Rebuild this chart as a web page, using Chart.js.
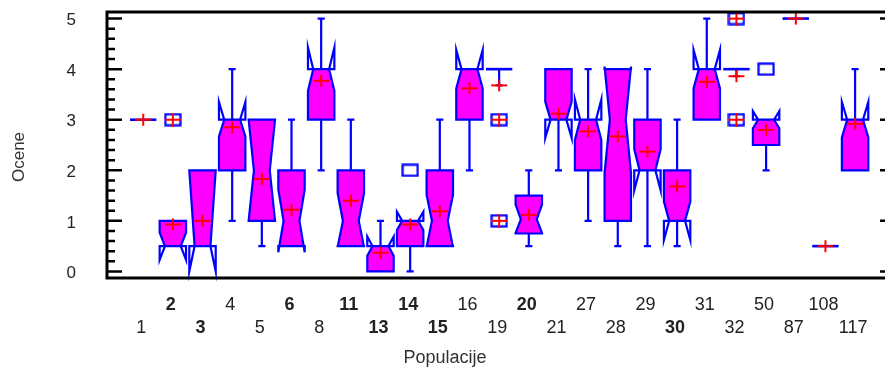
<!DOCTYPE html>
<html>
<head>
<meta charset="utf-8">
<script src="https://cdn.jsdelivr.net/npm/chart.js@4/dist/chart.umd.min.js"></script>
<style>
  html, body { margin: 0; padding: 0; background: #fff; }
  #wrap { width: 885px; height: 370px; }
</style>
</head>
<body>
<div id="wrap"><canvas id="boxChart" width="885" height="370"></canvas></div>
<script>
    // populations (x categories), bold ones as in the original
    const cats = ['1','2','3','4','5','6','8','11','13','14','15','16','19','20','21','27','28','29','30','31','32','50','87','108','117'];
    const boldCats = ['2','3','6','11','13','14','15','20','30'];

    // box statistics per population
    const q1 =      [3, 0.5, 0.5, 2,    1, 0.5,  3,    0.5,  0,    0.5,  0.5,  3,    4,    0.75, 3,    2,   1,    2,    1,    3,    4,    2.5,  5, 0.5, 2];
    const median =  [3, 0.5, 0.5, 3,    2, 1,    4,    1,    0.5,  1,    1,    4,    4,    1.03, 3,    3,   3,    2,    1,    4,    4,    3,    5, 0.5, 3];
    const q3 =      [3, 1,   2,   3,    3, 2,    4,    2,    0.5,  1,    2,    4,    4,    1.5,  4,    3,   4,    3,    2,    4,    4,    3,    5, 0.5, 3];
    const notchLo = [3, 0.23,0,   2.67, 1, 0.38, 3.57, 0.48, 0.31, 0.82, 0.48, 3.62, 4,    0.76, 2.64, 2.6, 1.95, 1.6,  0.62, 3.62, 4,    2.83, 5, 0.5, 2.65];
    const notchHi = [3, 0.77,2,   3.35, 3, 1.62, 4.43, 1.55, 0.69, 1.18, 1.52, 4.38, 4,    1.32, 3.36, 3.4, 4.05, 2.42, 1.38, 4.38, 4,    3.17, 5, 0.5, 3.35];
    const whiskLo = [null, null, null, 1, 0.5, null, 2, null, null, 0, null, 2, 3.68, 0.5, 2, 1, 0.5, 0.5, 0.5, null, 3.86, 2, null, null, null];
    const whiskHi = [null, null, null, 4, null, 3, 5, 3, 1, null, 3, null, null, 2, null, 4, null, 4, 3, 5, null, null, null, null, 4];
    const means =   [3, 0.93, 1.0, 2.85, 1.83, 1.22, 3.77, 1.4, 0.37, 0.93, 1.19, 3.62, 3.68, 1.12, 3.12, 2.77, 2.67, 2.37, 1.68, 3.75, 3.86, 2.8, 5, 0.5, 2.92];

    // outside points (square) and far outside points (square with plus)
    const nearOutCat = ['14', '50'];
    const nearOutVal = [2, 4];
    const farOutCat = ['2', '19', '19', '32', '32'];
    const farOutVal = [3, 3, 1, 5, 3];

    const yTicks = [0, 1, 2, 3, 4, 5];

    const BLUE = '#0000ff';
    const RED = '#ff0000';
    const MAGENTA = '#ff00ff';
    const FONT = '"Liberation Sans", Arial, sans-serif';

    // marker images used as point styles
    function makeCross() {
        const c = document.createElement('canvas');
        c.width = 18; c.height = 14;
        const g = c.getContext('2d');
        g.strokeStyle = RED; g.lineWidth = 2;
        g.beginPath();
        g.moveTo(1, 7); g.lineTo(17, 7);
        g.moveTo(9, 1); g.lineTo(9, 13);
        g.stroke();
        return c;
    }
    function makeSquare(withPlus) {
        const c = document.createElement('canvas');
        c.width = 18; c.height = 14;
        const g = c.getContext('2d');
        g.strokeStyle = BLUE; g.lineWidth = 2.2;
        g.strokeRect(1.5, 1.5, 15, 11);
        if (withPlus) {
            g.strokeStyle = RED; g.lineWidth = 2;
            g.beginPath();
            g.moveTo(1, 7); g.lineTo(17, 7);
            g.moveTo(9, 0); g.lineTo(9, 14);
            g.stroke();
        }
        return c;
    }

    const boxPlugin = {
        id: 'notchedBoxes',
        beforeDatasetsDraw(chart) {
            const ctx = chart.ctx;
            const xs = chart.scales.x, ys = chart.scales.y;
            const Y = v => ys.getPixelForValue(v);
            const half = 0.445, capHalf = 0.12;
            ctx.save();
            ctx.lineJoin = 'miter';
            for (let i = 0; i < cats.length; i++) {
                const xc = xs.getPixelForValue(i);
                const hw = xs.getPixelForValue(i + half) - xc;
                const cw = xs.getPixelForValue(i + capHalf) - xc;
                const L = xc - hw, R = xc + hw;
                const Li = xc - hw * 0.6, Ri = xc + hw * 0.6;

                ctx.strokeStyle = BLUE;
                ctx.lineWidth = 2.2;
                // whiskers
                [[whiskHi[i], q3[i]], [whiskLo[i], q1[i]]].forEach(([w, q]) => {
                    if (w === null) return;
                    ctx.beginPath();
                    ctx.moveTo(xc, Y(q)); ctx.lineTo(xc, Y(w));
                    ctx.moveTo(xc - cw, Y(w)); ctx.lineTo(xc + cw, Y(w));
                    ctx.stroke();
                });

                if (q1[i] === q3[i]) {
                    ctx.beginPath();
                    ctx.moveTo(L, Y(q3[i])); ctx.lineTo(R, Y(q3[i]));
                    ctx.lineWidth = 2.6;
                    ctx.stroke();
                    continue;
                }
                const path = new Path2D();
                path.moveTo(L, Y(q3[i]));
                path.lineTo(L, Y(notchHi[i]));
                path.lineTo(Li, Y(median[i]));
                path.lineTo(L, Y(notchLo[i]));
                path.lineTo(L, Y(q1[i]));
                path.lineTo(R, Y(q1[i]));
                path.lineTo(R, Y(notchLo[i]));
                path.lineTo(Ri, Y(median[i]));
                path.lineTo(R, Y(notchHi[i]));
                path.lineTo(R, Y(q3[i]));
                path.closePath();

                ctx.save();
                ctx.beginPath();
                ctx.rect(L - 2, Y(q3[i]), R - L + 4, Y(q1[i]) - Y(q3[i]));
                ctx.clip();
                ctx.fillStyle = MAGENTA;
                ctx.fill(path);
                ctx.restore();
                ctx.stroke(path);
            }
            ctx.restore();
        }
    };

    const framePlugin = {
        id: 'frame',
        afterDraw(chart) {
            const ctx = chart.ctx;
            const xs = chart.scales.x, ys = chart.scales.y;
            const a = chart.chartArea;
            ctx.save();
            ctx.strokeStyle = '#000';
            ctx.lineWidth = 3;
            ctx.beginPath();
            ctx.moveTo(a.left, a.top); ctx.lineTo(885, a.top);
            ctx.moveTo(a.left, a.bottom); ctx.lineTo(885, a.bottom);
            ctx.moveTo(a.left, a.top - 1.5); ctx.lineTo(a.left, a.bottom + 1.5);
            ctx.stroke();

            // y ticks: majors and minors on the left, majors on the right
            ctx.lineWidth = 2.5;
            ctx.beginPath();
            for (let k = 0; k <= 25; k++) {
                const v = k / 5;
                const y = ys.getPixelForValue(v);
                const len = (k % 5 === 0) ? 15 : 8;
                ctx.moveTo(a.left, y); ctx.lineTo(a.left + len, y);
            }
            yTicks.forEach(v => {
                const y = ys.getPixelForValue(v);
                ctx.moveTo(880, y); ctx.lineTo(885, y);
            });
            ctx.stroke();

            // y tick labels
            ctx.fillStyle = '#222';
            ctx.font = '17px ' + FONT;
            ctx.textAlign = 'right';
            ctx.textBaseline = 'middle';
            yTicks.forEach(v => ctx.fillText(String(v), 76, ys.getPixelForValue(v) + 2));

            // x labels, alternating rows
            ctx.textAlign = 'center';
            ctx.textBaseline = 'alphabetic';
            cats.forEach((c, i) => {
                const bold = boldCats.includes(c);
                ctx.font = (bold ? 'bold ' : '') + '18px ' + FONT;
                const y = (i % 2 === 0) ? 333 : 310;
                ctx.fillText(c, xs.getPixelForValue(i) - 2, y);
            });

            // axis titles
            ctx.font = '18px ' + FONT;
            ctx.fillStyle = '#333';
            ctx.fillText('Populacije', 445, 363);
            ctx.save();
            ctx.translate(19, 157);
            ctx.rotate(-Math.PI / 2);
            ctx.font = '17px ' + FONT;
            ctx.textBaseline = 'middle';
            ctx.fillText('Ocene', 0, 0);
            ctx.restore();
            ctx.restore();
        }
    };

    const crossImg = makeCross();
    const squareImg = makeSquare(false);
    const squarePlusImg = makeSquare(true);

    const configBox = {
        type: 'scatter',
        data: {
            datasets: [{
                label: 'outside',
                data: nearOutCat.map((c, k) => ({ x: cats.indexOf(c), y: nearOutVal[k] })),
                pointStyle: squareImg
            }, {
                label: 'far outside',
                data: farOutCat.map((c, k) => ({ x: cats.indexOf(c), y: farOutVal[k] })),
                pointStyle: squarePlusImg
            }, {
                label: 'mean',
                data: means.map((m, i) => ({ x: i, y: m })),
                pointStyle: crossImg
            }]
        },
        options: {
            responsive: false,
            animation: false,
            layout: {
                padding: { left: 107, top: 12, right: 1, bottom: 92 }
            },
            scales: {
                x: { type: 'linear', min: -1.22, max: 24.84, display: false },
                y: { type: 'linear', min: -0.13, max: 5.13, display: false }
            },
            plugins: {
                legend: { display: false },
                tooltip: { enabled: false }
            }
        },
        plugins: [boxPlugin, framePlugin]
    };

    new Chart(document.getElementById('boxChart'), configBox);
</script>
</body>
</html>
